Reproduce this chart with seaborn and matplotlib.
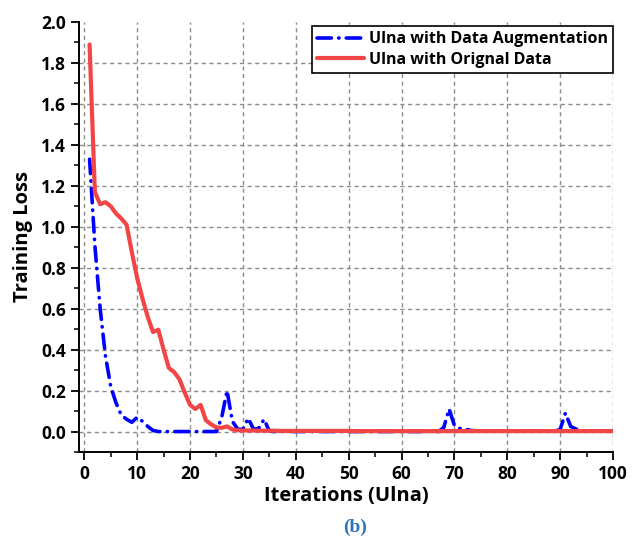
import numpy as np
import pandas as pd
import matplotlib
matplotlib.use("Agg")
import matplotlib.pyplot as plt
import seaborn as sns
from matplotlib.ticker import MultipleLocator

iterations = list(range(1, 101))

aug_loss = [1.33, 0.91, 0.60, 0.37, 0.22, 0.14, 0.08, 0.06, 0.045, 0.07,
            0.05, 0.025, 0.005, 0.0, 0.0, 0.0, 0.0, 0.0, 0.0, 0.0,
            0.0, 0.0, 0.0, 0.0, 0.0, 0.07, 0.20, 0.05, 0.012, 0.01,
            0.065, 0.012, 0.015, 0.06, 0.002, 0.0, 0.0, 0.0, 0.0, 0.0,
            0.0, 0.0, 0.0, 0.0, 0.0, 0.0, 0.0, 0.0, 0.0, 0.0,
            0.0, 0.0, 0.0, 0.0, 0.0, 0.0, 0.0, 0.0, 0.0, 0.0,
            0.0, 0.0, 0.0, 0.0, 0.0, 0.0, 0.0, 0.02, 0.11, 0.03,
            0.015, 0.012, 0.006, 0.003, 0.002, 0.002, 0.002, 0.002, 0.002, 0.002,
            0.002, 0.002, 0.002, 0.002, 0.002, 0.002, 0.002, 0.002, 0.002, 0.01,
            0.09, 0.025, 0.012, 0.006, 0.003, 0.003, 0.003, 0.003, 0.003, 0.003]

orig_loss = [1.89, 1.17, 1.11, 1.12, 1.10, 1.065, 1.04, 1.01, 0.875, 0.75,
             0.65, 0.56, 0.486, 0.497, 0.40, 0.31, 0.29, 0.255, 0.19, 0.13,
             0.11, 0.13, 0.055, 0.035, 0.02, 0.018, 0.025, 0.01, 0.006, 0.005,
             0.005, 0.005, 0.004, 0.004, 0.004, 0.004, 0.003, 0.003, 0.003, 0.003,
             0.003, 0.003, 0.003, 0.003, 0.003, 0.003, 0.003, 0.003, 0.003, 0.003,
             0.002, 0.002, 0.002, 0.002, 0.002, 0.002, 0.002, 0.002, 0.002, 0.002,
             0.002, 0.002, 0.002, 0.002, 0.002, 0.002, 0.002, 0.002, 0.002, 0.002,
             0.002, 0.002, 0.002, 0.002, 0.002, 0.002, 0.002, 0.002, 0.002, 0.002,
             0.002, 0.002, 0.002, 0.002, 0.002, 0.002, 0.002, 0.002, 0.002, 0.002,
             0.002, 0.002, 0.002, 0.002, 0.002, 0.002, 0.002, 0.002, 0.002, 0.002]

label_aug = "Ulna with Data Augmentation"
label_orig = "Ulna with Orignal Data"
x_ticks = list(range(0, 101, 10))
y_ticks = [0.0, 0.2, 0.4, 0.6, 0.8, 1.0, 1.2, 1.4, 1.6, 1.8, 2.0]

sns.set_style("ticks")
plt.rcParams['font.family'] = ['Open Sans', 'DejaVu Sans']
plt.rcParams['text.color'] = 'black'
plt.rcParams['axes.labelcolor'] = 'black'
plt.rcParams['xtick.color'] = 'black'
plt.rcParams['ytick.color'] = 'black'

fig = plt.figure(figsize=(6.39, 5.40), dpi=100)
ax = fig.add_axes([79/639, 1-452/540, (613-79)/639, (452-22)/540])

df_aug = pd.DataFrame({"x": iterations, "y": aug_loss})
df_orig = pd.DataFrame({"x": iterations, "y": orig_loss})

sns.lineplot(data=df_aug, x="x", y="y", ax=ax, color="#0000ff", lw=2.6,
             linestyle=(0, (4.0, 2.0, 0.1, 2.0)), dash_capstyle="round",
             label=label_aug, zorder=3)
sns.lineplot(data=df_orig, x="x", y="y", ax=ax, color="#f24646", lw=3.0,
             label=label_orig, zorder=4)

ax.set_xlim(-1, 100)
ax.set_ylim(-0.1, 2.0)
ax.set_xticks(x_ticks)
ax.set_yticks(y_ticks)
ax.set_yticklabels([f"{v:.1f}" for v in y_ticks])
ax.xaxis.set_minor_locator(MultipleLocator(5))
ax.yaxis.set_minor_locator(MultipleLocator(0.1))

ax.grid(True, which="major", color="#8c8c8c", linestyle=(0, (3, 2.5)), lw=1.0)
ax.yaxis.get_gridlines()[-1].set_visible(False)

for s in ["top", "right"]:
    ax.spines[s].set_visible(False)
for s in ["left", "bottom"]:
    ax.spines[s].set_linewidth(1.4)
    ax.spines[s].set_color("black")

ax.tick_params(which="major", direction="out", length=6, width=1.3, colors="black",
               labelsize=12.5)
ax.tick_params(which="minor", direction="out", length=3.5, width=1.1, colors="black")
for lab in ax.get_xticklabels() + ax.get_yticklabels():
    lab.set_fontweight("bold")
    lab.set_color("black")

ax.set_xlabel("Iterations (Ulna)", fontsize=14.5, fontweight="bold", labelpad=2,
              color="black")
ax.set_ylabel("Training Loss", fontsize=14.5, fontweight="bold", labelpad=6,
              color="black")

leg = ax.legend(loc="upper right", bbox_to_anchor=(1.0, 0.99), fancybox=False,
                framealpha=1, edgecolor="black", borderaxespad=0.0,
                prop={"weight": "bold", "size": 11.5}, handlelength=3.0,
                handletextpad=0.3, labelspacing=0.3, borderpad=0.3)
leg.get_frame().set_linewidth(1.2)
for t in leg.get_texts():
    t.set_color("black")

fig.text(355/639, 1-527/540, "(b)", ha="center", va="center", color="#2e74b5",
         fontsize=14, fontweight="bold", family="Liberation Serif")

fig.savefig("out.png", dpi=100)
